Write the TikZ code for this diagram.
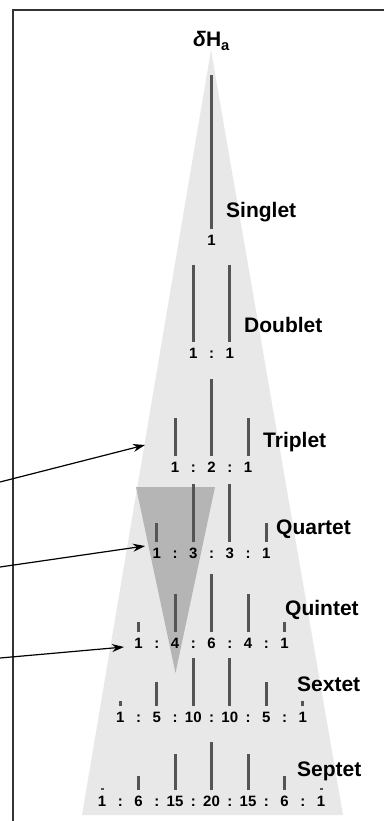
\documentclass[tikz,border=0pt]{standalone}
\usepackage{fontspec}
\setmainfont{Liberation Sans}
\usepackage{tikz}
\usetikzlibrary{arrows.meta,calc}

\definecolor{conegray}{gray}{0.91}
\definecolor{shadegray}{gray}{0.71}
\definecolor{peakgray}{gray}{0.33}

\tikzset{
  peak/.style={line width=3pt, peakgray},
  ratio/.style={anchor=base, inner sep=0pt,
                font=\bfseries\fontsize{15}{17}\selectfont},
  multlabel/.style={anchor=base west, inner sep=0pt,
                    font=\bfseries\fontsize{21}{24}\selectfont},
  pointer/.style={-{Stealth[length=12pt,width=8pt]}, line width=1.2pt},
}

\begin{document}
\begin{tikzpicture}[x=1pt, y=-1pt]

  \useasboundingbox (0,0) rectangle (384,821);

  %--- Frame ---------------------------------------------------------------
  \draw[line width=1.5pt, black!80] (384,10) -- (13,10) -- (13,821);

  %--- Splitting cone and shaded sub-tree -----------------------------------
  \coordinate (apex) at (211,50);
  \fill[conegray] (apex) -- (343,815) -- (82,815) -- cycle;
  \fill[shadegray] (136,487) -- (215,487) -- (175.5,673) -- cycle;

  %--- Chemical shift label ------------------------------------------------
  \node[anchor=base, inner sep=0pt, font=\bfseries\fontsize{21}{24}\selectfont]
       (shift) at (211.5,47) {\textit{δ}H\textsubscript{a}};

  %--- Multiplets: peaks, ratios and names ---------------------------------
  \foreach \row/\yb/\coefs/\tot/\mult/\lx/\ly in {
      1/229/{1}/1/Singlet/226/217,
      2/342/{1,1}/2/Doublet/244/332,
      3/456/{1,2,1}/4/Triplet/263/447,
      4/542/{1,3,3,1}/8/Quartet/276/534,
      5/632/{1,4,6,4,1}/16/Quintet/285/615,
      6/706/{1,5,10,10,5,1}/32/Sextet/297/691,
      7/790/{1,6,15,20,15,6,1}/64/Septet/297/776}{
    \foreach \c [count=\k] in \coefs {
      \pgfmathsetmacro\px{211.5+(\k-1-(\row-1)/2)*36.5}
      \pgfmathsetmacro\ptop{\yb-154*\c/\tot}
      \draw[peak] (\px,\yb) -- (\px,\ptop);
      \node[ratio] (num-\row-\k) at (\px,\yb+16) {\c};
      \ifnum\k>1
        \node[ratio] (colon-\row-\k) at (\px-18.25,\yb+16) {:};
      \fi
    }
    \node[multlabel] (lbl-\row) at (\lx,\ly) {\mult};
  }

  %--- Pointers ------------------------------------------------------------
  \coordinate (p1s) at (0,482);  \coordinate (p1e) at (145,445);
  \coordinate (p2s) at (0,567);  \coordinate (p2e) at (145,546);
  \coordinate (p3s) at (0,658);  \coordinate (p3e) at (124,647);
  \draw[pointer] (p1s) -- (p1e);
  \draw[pointer] (p2s) -- (p2e);
  \draw[pointer] (p3s) -- (p3e);

\end{tikzpicture}
\end{document}
